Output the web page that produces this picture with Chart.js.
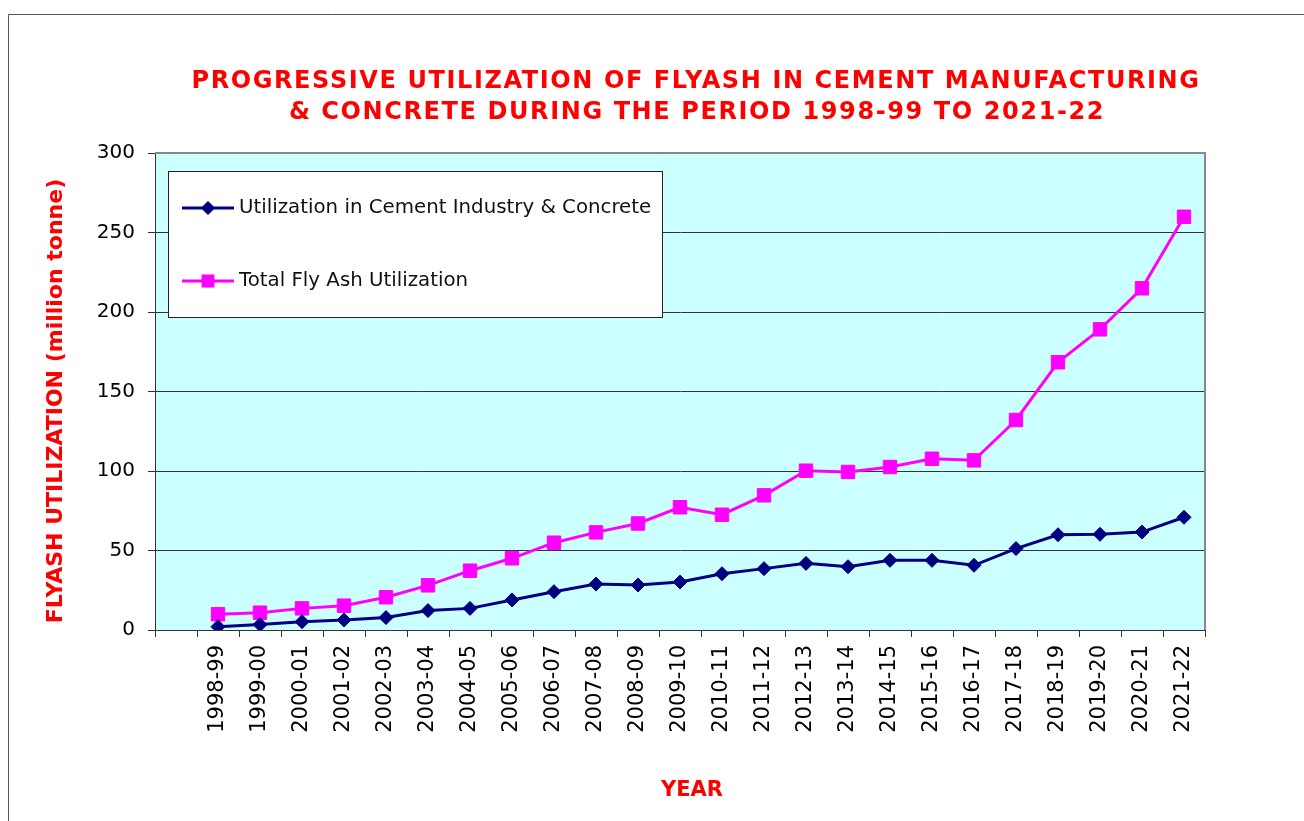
<!DOCTYPE html>
<html><head><meta charset="utf-8">
<script src="https://cdn.jsdelivr.net/npm/chart.js@4.4.0/dist/chart.umd.min.js"></script>
<style>html,body{margin:0;padding:0;background:#fff;} #wrap{position:relative;width:1304px;height:821px;}</style>
</head><body><div id="wrap"><canvas id="c"></canvas></div>
<script>
const years = ['1998-99','1999-00','2000-01','2001-02','2002-03','2003-04','2004-05','2005-06','2006-07','2007-08','2008-09','2009-10','2010-11','2011-12','2012-13','2013-14','2014-15','2015-16','2016-17','2017-18','2018-19','2019-20','2020-21','2021-22'];
const cementUtilization = [2.1,3.4,5.2,6.3,7.8,12.2,13.6,18.9,24.1,28.9,28.3,30.2,35.4,38.6,41.9,39.8,43.8,43.8,40.7,51.2,59.9,60.2,61.6,70.9];
const totalUtilization = [9.9,10.9,13.6,15.3,20.6,28.1,37.3,45.1,54.9,61.4,67.0,77.2,72.5,84.7,100.2,99.4,102.5,107.7,106.7,132.1,168.4,189.1,214.9,259.9];
const yTicks = [0,50,100,150,200,250,300];
const seriesNames = ['Utilization in Cement Industry & Concrete','Total Fly Ash Utilization'];
const titleLines = ['PROGRESSIVE UTILIZATION OF FLYASH IN CEMENT MANUFACTURING','& CONCRETE DURING THE PERIOD 1998-99 TO 2021-22'];
const yAxisTitle = 'FLYASH UTILIZATION (million tonne)';
const xAxisTitle = 'YEAR';

const FONT = '"DejaVu Sans", Verdana, sans-serif';
const labels = [''].concat(years);

const decor = {
  id: 'decor',
  beforeDraw(chart) {
    const {ctx, chartArea: a} = chart;
    ctx.save();
    ctx.fillStyle = '#CCFFFF';
    ctx.fillRect(a.left, a.top, a.right - a.left, a.bottom - a.top);
    ctx.strokeStyle = '#555';
    ctx.lineWidth = 1;
    ctx.beginPath();
    ctx.moveTo(8.5, 830); ctx.lineTo(8.5, 14.5); ctx.lineTo(1310, 14.5);
    ctx.stroke();
    ctx.restore();
  },
  beforeDatasetsDraw(chart) {
    const {ctx, chartArea: a} = chart;
    ctx.save();
    ctx.strokeStyle = '#888';
    ctx.lineWidth = 2;
    ctx.beginPath();
    ctx.moveTo(a.left, a.top); ctx.lineTo(a.right, a.top); ctx.lineTo(a.right, a.bottom);
    ctx.stroke();
    ctx.restore();
  },
  afterDraw(chart) {
    const {ctx} = chart;
    ctx.save();
    // titles
    ctx.fillStyle = '#FF0000';
    ctx.textAlign = 'center';
    ctx.textBaseline = 'middle';
    ctx.font = 'bold 24px ' + FONT;
    if ('letterSpacing' in ctx) ctx.letterSpacing = '1.6px';
    ctx.fillText(titleLines[0], 696, 82);
    ctx.fillText(titleLines[1], 697, 113);
    if ('letterSpacing' in ctx) ctx.letterSpacing = '0px';
    ctx.font = 'bold 21px ' + FONT;
    ctx.fillText(xAxisTitle, 692, 791);
    ctx.save();
    ctx.font = 'bold 22px ' + FONT;
    ctx.translate(56, 401);
    ctx.rotate(-Math.PI / 2);
    ctx.fillText(yAxisTitle, 0, 0);
    ctx.restore();
    // legend box
    ctx.fillStyle = '#FFFFFF';
    ctx.fillRect(168.5, 171.5, 494, 146);
    ctx.strokeStyle = '#222';
    ctx.lineWidth = 1;
    ctx.strokeRect(168.5, 171.5, 494, 146);
    const ys = [208, 281];
    chart.data.datasets.forEach((ds, i) => {
      const y = ys[i];
      ctx.strokeStyle = ds.borderColor;
      ctx.lineWidth = ds.borderWidth;
      ctx.beginPath(); ctx.moveTo(182, y); ctx.lineTo(234, y); ctx.stroke();
      ctx.fillStyle = ds.pointBackgroundColor;
      ctx.strokeStyle = ds.pointBorderColor;
      Chart.helpers.drawPoint(ctx, {pointStyle: ds.pointStyle, radius: ds.legendRadius, rotation: 0, borderWidth: 1}, 208, y);
      ctx.fillStyle = '#111';
      ctx.textAlign = 'left';
      ctx.textBaseline = 'middle';
      ctx.font = '19.8px ' + FONT;
      ctx.fillText(ds.label, 239, y);
    });
    ctx.restore();
  }
};

new Chart(document.getElementById('c'), {
  type: 'line',
  data: {
    labels: labels,
    datasets: [
      {
        label: seriesNames[0],
        data: [null].concat(cementUtilization),
        borderColor: '#000080', backgroundColor: '#000080',
        pointBackgroundColor: '#000080', pointBorderColor: '#000080',
        borderWidth: 3, pointStyle: 'rectRot', pointRadius: 7, pointBorderWidth: 1,
        legendRadius: 5, tension: 0, fill: false
      },
      {
        label: seriesNames[1],
        data: [null].concat(totalUtilization),
        borderColor: '#FF00FF', backgroundColor: '#FF00FF',
        pointBackgroundColor: '#FF00FF', pointBorderColor: '#FF00FF',
        borderWidth: 3, pointStyle: 'rect', pointRadius: 9.5, pointBorderWidth: 1,
        legendRadius: 7, tension: 0, fill: false
      }
    ]
  },
  options: {
    responsive: true, maintainAspectRatio: false, animation: false,
    devicePixelRatio: 1,
    layout: {padding: {top: 153, right: 99, left: 0, bottom: 0}},
    plugins: {legend: {display: false}, title: {display: false}, tooltip: {enabled: false}},
    scales: {
      x: {
        type: 'category', offset: true,
        grid: {offset: true, drawOnChartArea: false, drawTicks: true, tickLength: 7, color: '#333', lineWidth: 1},
        border: {display: true, color: '#333', width: 1},
        ticks: {autoSkip: false, minRotation: 90, maxRotation: 90, padding: 8, color: '#000', font: {family: FONT, size: 21}},
        afterFit(s) { s.height = 191; }
      },
      y: {
        min: 0, max: 300,
        afterBuildTicks(s) { s.ticks = yTicks.map(v => ({value: v})); },
        grid: {color: '#333', lineWidth: 1, tickLength: 7, drawTicks: true},
        border: {display: true, color: '#333', width: 1},
        ticks: {padding: 13, color: '#000', font: {family: FONT, size: 20}},
        afterFit(s) { s.width = 155; }
      }
    }
  },
  plugins: [decor]
});
</script></body></html>
